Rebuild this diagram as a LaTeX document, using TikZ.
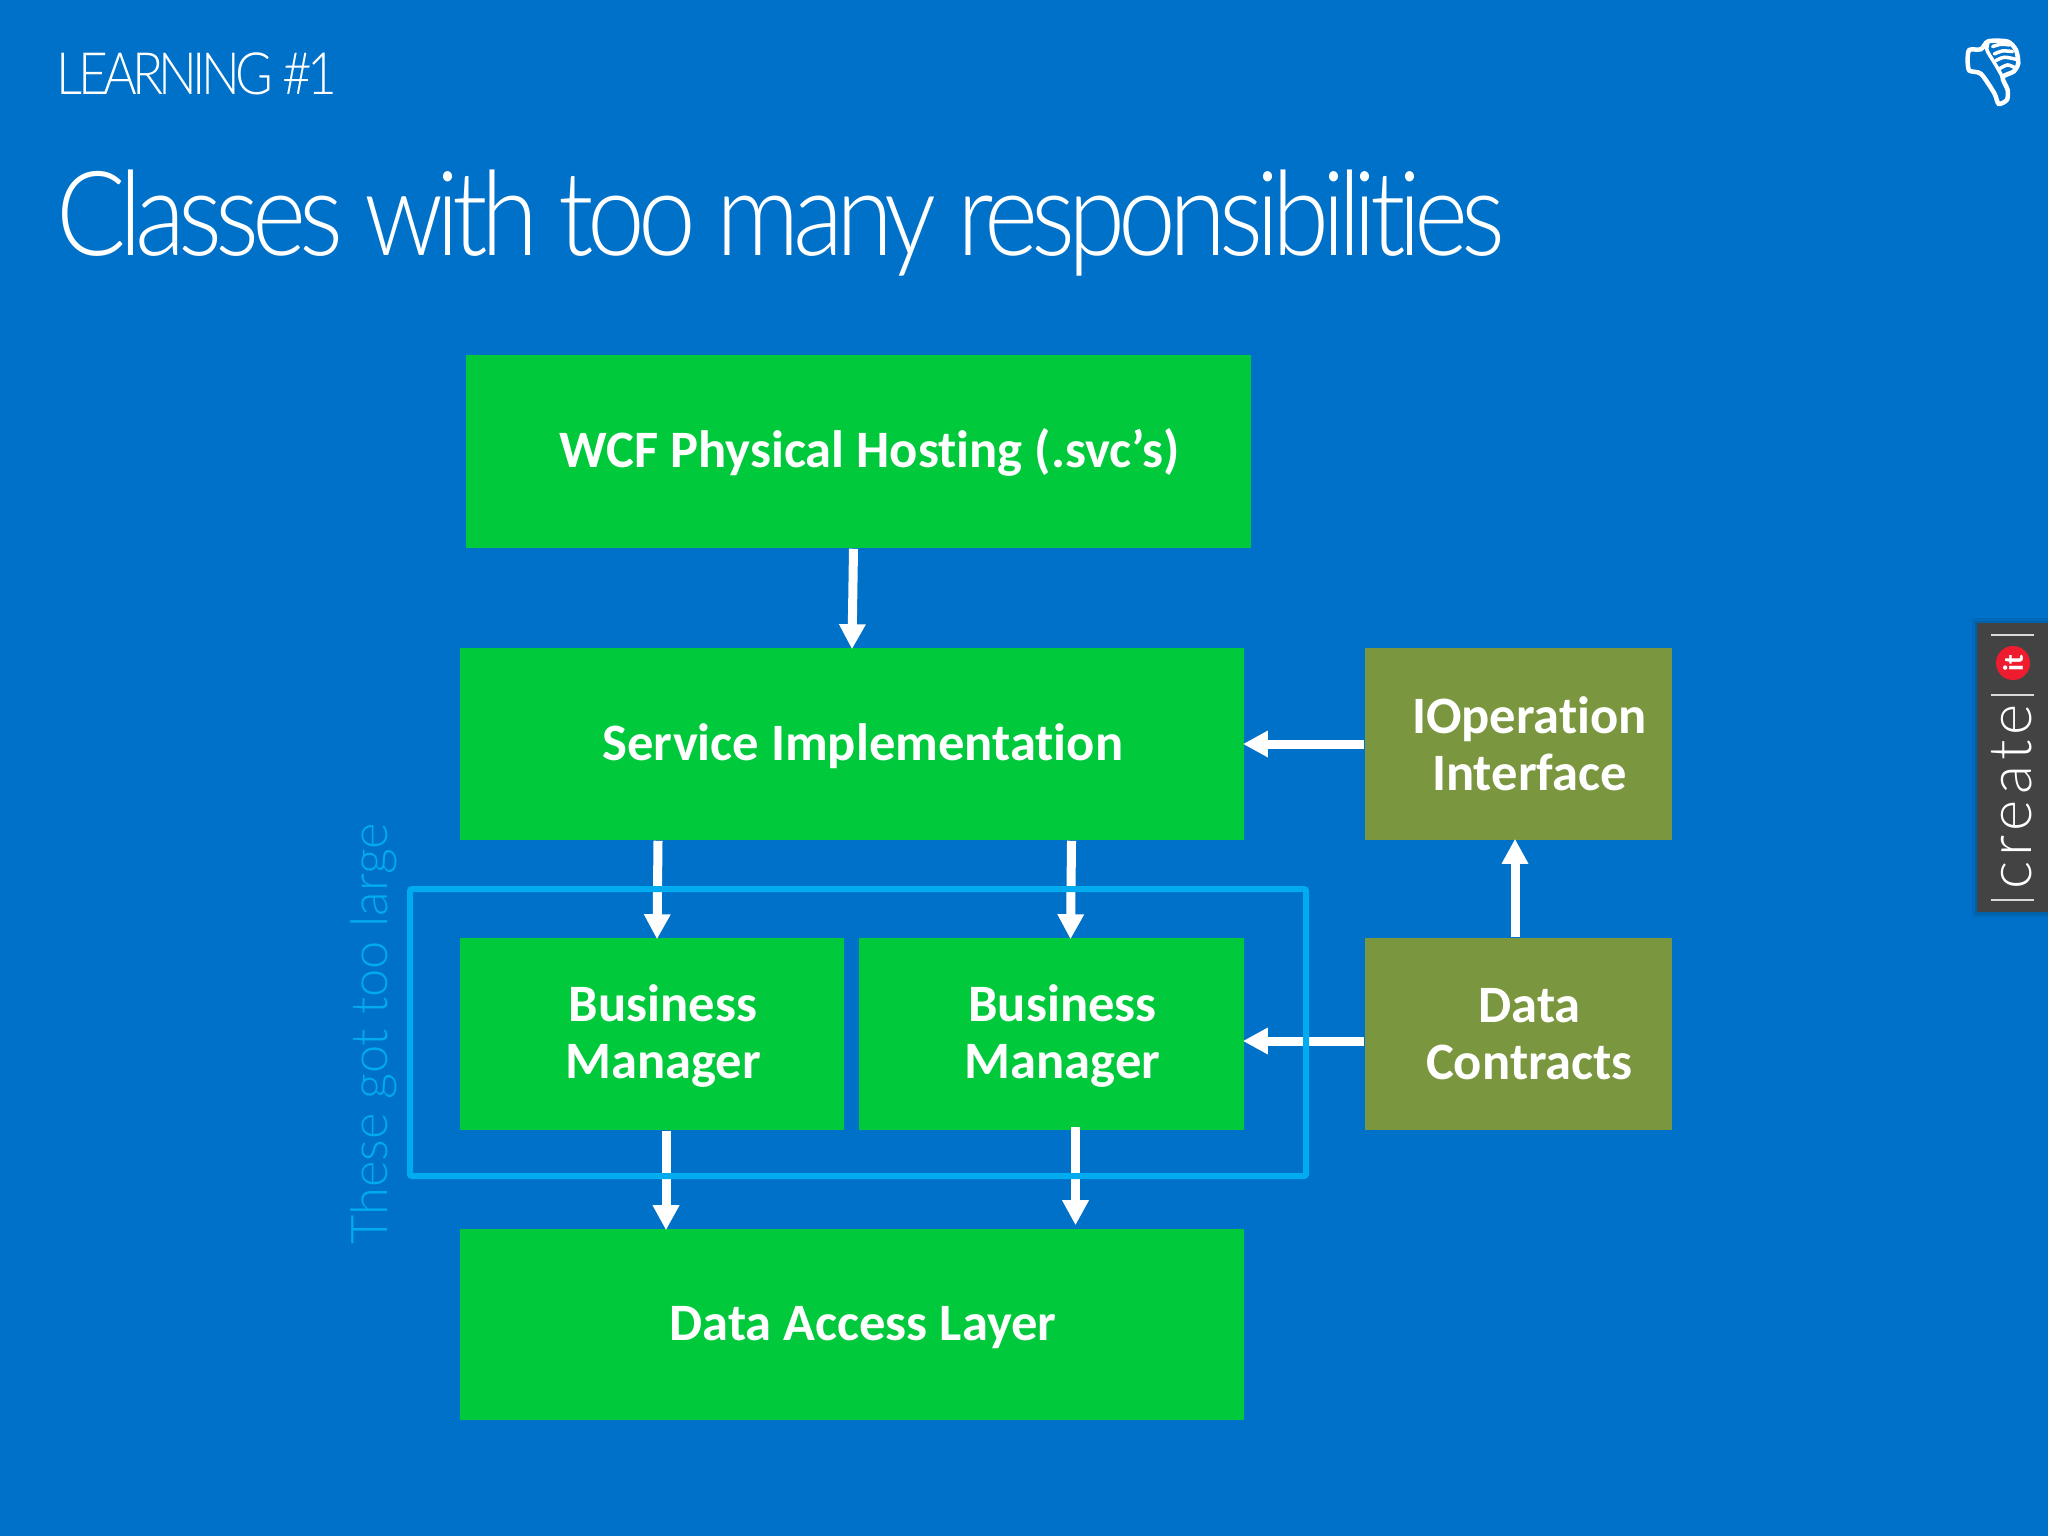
\documentclass[tikz,border=0pt]{standalone}
\usepackage{fontspec}
\usetikzlibrary{arrows.meta}
\setmainfont[Ligatures=NoCommon]{Carlito}
\newfontfamily\lightfont[UprightFont=* Light,Ligatures=NoCommon,LetterSpace=-6,FakeStretch=0.88]{Lato}
\newfontfamily\headfont[UprightFont=* Light,Ligatures=NoCommon,LetterSpace=-8,FakeStretch=0.88]{Lato}
\newfontfamily\thinfont[UprightFont=* Light]{Lato}
\newfontfamily\tabfont[UprightFont=* Light,LetterSpace=9]{Lato}
\definecolor{slideblue}{HTML}{0071C8}
\definecolor{boxgreen}{HTML}{00C93C}
\definecolor{boxolive}{HTML}{7A963E}
\definecolor{framecyan}{HTML}{00ABF0}
\definecolor{tabgrey}{HTML}{434343}
\definecolor{tabred}{HTML}{EE1C2E}
\def\tsh{\hspace*{0.22cm}}
\def\tsd{\hspace*{0.22cm}\rule{0pt}{0.41cm}}
\begin{document}
\begin{tikzpicture}[x=0.01cm,y=-0.01cm]
    \tikzstyle{gbox}=[rectangle, fill=boxgreen, text=white, align=center, inner sep=0pt, font=\fontsize{14.95}{16.3}\selectfont\bfseries]
    \tikzstyle{oneline}=[text height=0.42cm, text depth=0.1cm]
    \tikzstyle{obox}=[gbox, fill=boxolive]
    \tikzstyle{marrs}=[white, line width=0.09cm, shorten >=-0.02cm, -{Triangle[length=0.25cm,width=0.25cm]}]
    \tikzstyle{tabline}=[white!85!black, line width=0.025cm]

    \fill[slideblue] (0,0) rectangle (2048,1536);
    \useasboundingbox (0,0) rectangle (2048,1536);

    % headings
    \node[anchor=base west, inner sep=0pt, text=white, font=\fontsize{16.6}{20}\selectfont\headfont] (head) at (56,94) {LEARNING \#1};
    \node[anchor=base west, inner sep=0pt, text=white, font=\fontsize{33.45}{36}\selectfont\lightfont] (title) at (56,255) {Classes with too many responsibilities};

    % boxes
    \node[gbox, oneline, minimum width=7.85cm, minimum height=1.93cm] (wcf) at (858.5,451.5) {\tsh WCF Physical Hosting (.svc’s)};
    \node[gbox, oneline, minimum width=7.84cm, minimum height=1.92cm] (svc) at (852,744) {\tsh Service Implementation};
    \node[gbox, minimum width=3.84cm, minimum height=1.92cm] (bma) at (652,1034) {\tsd Business\\\tsh Manager};
    \node[gbox, minimum width=3.85cm, minimum height=1.92cm] (bmb) at (1051.5,1034) {\tsd Business\\\tsh Manager};
    \node[gbox, oneline, minimum width=7.84cm, minimum height=1.91cm] (dal) at (852,1324.5) {\tsh Data Access Layer};
    \node[obox, minimum width=3.07cm, minimum height=1.92cm] (iop) at (1518.5,744) {\tsh IOperation\\\tsh Interface};
    \node[obox, minimum width=3.07cm, minimum height=1.92cm] (dat) at (1518.5,1034) {\tsh Data\\\tsh Contracts};

    % arrows
    \draw[marrs] ([xshift=-0.05cm]wcf.south) -- (svc.north);
    \draw[marrs] ([xshift=0.06cm]svc.south -| bma) -- ([xshift=0.05cm]bma.north);
    \draw[marrs] ([xshift=0.20cm]svc.south -| bmb) -- ([xshift=0.19cm]bmb.north);
    \draw[marrs] (iop.west) -- (svc.east);
    \draw[marrs] (dat.west |- 0,1041) -- (bmb.east |- 0,1041);
    \draw[marrs] (dat.north -| 1515,0) -- (iop.south -| 1515,0);
    \draw[marrs] ([xshift=0.14cm]bma.south) -- ([xshift=0.14cm]dal.north -| bma);
    \draw[marrs] ([xshift=0.24cm,yshift=0.04cm]bmb.south) -- ([xshift=0.24cm,yshift=0.05cm]dal.north -| bmb);

    % the part that got too large
    \draw[framecyan, line width=0.06cm, rounded corners=0.02cm] (410,889) rectangle (1306,1176);
    \node[rotate=90, anchor=base west, inner sep=0pt, text=framecyan, font=\fontsize{14.4}{16}\selectfont\thinfont] (large) at (387,1245) {These got too large};

    % thumb
    \begin{scope}[shift={(19cm,0cm)},x=0.00333cm,y=-0.00333cm,white,line width=0.035cm,line cap=round]
        \draw[line width=0.045cm] plot[smooth cycle,tension=0.45] coordinates {(205,150) (240,148) (262,124) (320,125) (345,150) (352,190) (338,215) (305,232) (320,270) (318,300) (293,312) (280,280) (240,222) (205,212) (200,180)};
        \draw plot[smooth] coordinates {(262,124) (258,150) (275,180) (290,205) (305,232)};
        \draw plot[smooth] coordinates {(275,140) (300,133) (325,135)};
        \draw plot[smooth] coordinates {(280,162) (305,153) (335,155)};
        \draw plot[smooth] coordinates {(285,182) (310,172) (345,178)};
        \draw plot[smooth] coordinates {(295,207) (320,195) (345,205)};
    \end{scope}

    % side tab
    \foreach \wd in {0.05,0.025}
        \fill[black, opacity=0.07] (1977-\wd*100,623-\wd*100) rectangle (2048,912+\wd*100);
    \fill[tabgrey] (1977,623) rectangle (2048,912);
    \draw[tabline] (1991,635) -- (2034,635);
    \draw[tabline] (1991,695) -- (2034,695);
    \draw[tabline] (1991,900) -- (2034,900);
    \node[circle, fill=tabred, minimum size=0.34cm, inner sep=0pt] (badge) at (2013,663) {};
    \node[rotate=90, inner sep=0pt, text=white, font=\fontsize{8}{8}\selectfont\bfseries] (badgeit) at (badge) {it};
    \node[rotate=90, anchor=base, inner sep=0pt, text=white, font=\fontsize{17}{20}\selectfont\tabfont] (tabtext) at (2031,797) {create};
\end{tikzpicture}
\end{document}
